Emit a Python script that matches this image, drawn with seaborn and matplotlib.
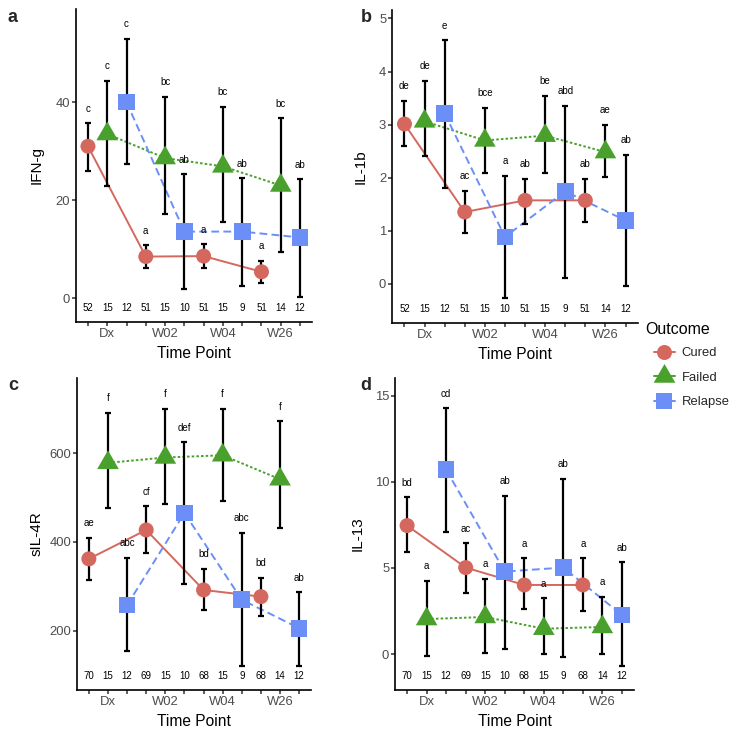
import matplotlib
matplotlib.use("Agg")
import matplotlib.pyplot as plt
import seaborn as sns
import pandas as pd
from matplotlib.path import Path
from matplotlib.lines import Line2D

# ---------------- data ----------------
timepoints = ["Dx", "W02", "W04", "W26"]
outcomes = ["Cured", "Failed", "Relapse"]
colors = {"Cured": "#D4685F", "Failed": "#4AA02C", "Relapse": "#6C8EF7"}

# order within each list: Dx(Cured, Failed, Relapse), W02(...), W04(...), W26(...)
ifng_mean = [31.0, 33.5, 40.0, 8.5, 28.6, 13.6, 8.6, 26.9, 13.6, 5.4, 23.0, 12.4]
ifng_low = [26.0, 23.0, 27.3, 6.1, 17.1, 1.9, 6.1, 15.6, 2.5, 3.2, 9.5, 0.3]
ifng_high = [35.7, 44.4, 52.9, 10.8, 41.1, 25.3, 11.0, 39.0, 24.5, 7.6, 36.7, 24.3]
ifng_letters = ["c", "c", "c", "a", "bc", "ab", "a", "bc", "ab", "a", "bc", "ab"]
ifng_n = [52, 15, 12, 51, 15, 10, 51, 15, 9, 51, 14, 12]

il1b_mean = [3.01, 3.06, 3.21, 1.35, 2.70, 0.88, 1.57, 2.79, 1.74, 1.57, 2.48, 1.19]
il1b_low = [2.60, 2.40, 1.81, 0.96, 2.08, -0.27, 1.13, 2.09, 0.10, 1.16, 2.01, -0.04]
il1b_high = [3.45, 3.82, 4.59, 1.75, 3.32, 2.03, 1.98, 3.54, 3.35, 1.98, 3.00, 2.43]
il1b_letters = ["de", "de", "e", "ac", "bce", "a", "ab", "be", "abd", "ab", "ae", "ab"]
il1b_n = [52, 15, 12, 51, 15, 10, 51, 15, 9, 51, 14, 12]

sil4r_mean = [362, 578, 258, 427, 590, 465, 292, 595, 270, 277, 541, 206]
sil4r_low = [315, 476, 155, 375, 485, 306, 246, 493, 121, 234, 431, 121]
sil4r_high = [409, 690, 364, 480, 700, 624, 340, 700, 420, 319, 671, 287]
sil4r_letters = ["ae", "f", "abc", "cf", "f", "def", "bd", "f", "abc", "bd", "f", "ab"]
sil4r_n = [70, 15, 12, 69, 15, 10, 68, 15, 9, 68, 14, 12]

il13_mean = [7.46, 2.03, 10.70, 5.02, 2.15, 4.79, 4.01, 1.47, 5.02, 4.01, 1.57, 2.27]
il13_low = [5.91, -0.12, 7.07, 3.57, 0.04, 0.27, 2.62, 0.0, -0.16, 2.52, 0.0, -0.70]
il13_high = [9.09, 4.26, 14.28, 6.43, 4.36, 9.19, 5.56, 3.24, 10.17, 5.56, 3.33, 5.33]
il13_letters = ["bd", "a", "cd", "ac", "a", "ab", "a", "a", "ab", "a", "a", "ab"]
il13_n = [70, 15, 12, 69, 15, 10, 68, 15, 9, 68, 14, 12]

# ---------------- style ----------------
sns.set_theme(style="ticks")
plt.rcParams["font.family"] = ["Liberation Sans", "DejaVu Sans"]

W, H = 733, 729
fig = plt.figure(figsize=(W / 100, H / 100), dpi=100)

tri = Path([(0, 1), (-0.866, -0.5), (0.866, -0.5), (0, 1)],
           [Path.MOVETO, Path.LINETO, Path.LINETO, Path.CLOSEPOLY])
markers = {"Cured": "o", "Failed": tri, "Relapse": "s"}
msize = {"Cured": 10.8, "Failed": 18.0, "Relapse": 12.0}
dashes = {"Cured": "", "Failed": (1.3, 1.1), "Relapse": (4, 2.2)}


def make_df(mean, low, high):
    rows = []
    for ti, tp in enumerate(timepoints):
        for oi, oc in enumerate(outcomes):
            k = ti * 3 + oi
            rows.append(dict(pos=k + 1, Time=tp, Outcome=oc,
                             mean=mean[k], low=low[k], high=high[k]))
    return pd.DataFrame(rows)


def px_axes(L, R, T, B):
    return fig.add_axes([L / W, 1 - B / H, (R - L) / W, (B - T) / H])


def panel(box, mean, low, high, letters, ns, ylim, yticks, ylabel, ylab_x, tag, tag_x):
    L, R, T, B = box
    ax = px_axes(L, R, T, B)
    df = make_df(mean, low, high)
    sns.lineplot(data=df, x="pos", y="mean", hue="Outcome", style="Outcome",
                 palette=colors, dashes=dashes, markers=False, linewidth=1.4,
                 legend=False, sort=True, estimator=None, ax=ax, zorder=1.5)
    ax.errorbar(df["pos"], df["mean"],
                yerr=[df["mean"] - df["low"], df["high"] - df["mean"]],
                fmt="none", ecolor="black", elinewidth=1.6, capsize=2.2,
                capthick=1.6, zorder=2.5)
    sns.scatterplot(data=df, x="pos", y="mean", hue="Outcome", style="Outcome",
                    size="Outcome", palette=colors, markers=markers,
                    sizes={k: v ** 2 for k, v in msize.items()},
                    linewidth=0, alpha=1, legend=False, ax=ax, zorder=3)
    for x, hi, lab in zip(df["pos"], df["high"], letters):
        ax.annotate(lab, (x, hi), xytext=(0, 10.5), textcoords="offset points",
                    ha="center", va="center", fontsize=7, color="black")
    tr = ax.get_xaxis_transform()
    for x, n in zip(df["pos"], ns):
        ax.text(x, 0.044, str(n), transform=tr, ha="center", va="center",
                fontsize=7, color="black")
    ax.set_xlim(0.38, 12.62)
    ax.set_ylim(*ylim)
    ax.set_xticks(list(df["pos"]))
    ax.set_xticklabels([tp if oc == "Failed" else "" for tp, oc in zip(df["Time"], df["Outcome"])])
    ax.set_yticks(yticks)
    ax.set_yticklabels([str(t) for t in yticks])
    sns.despine(ax=ax)
    for s in ["left", "bottom"]:
        ax.spines[s].set_linewidth(1.2)
        ax.spines[s].set_color("black")
    ax.tick_params(axis="both", length=3, width=1.1, color="#333333",
                   labelcolor="#4D4D4D", labelsize=9.4, pad=1.2)
    ax.set_xlabel("Time Point", fontsize=11.2, color="black")
    ax.xaxis.set_label_coords(0.5, -(346 - 322) / (B - T))
    ax.xaxis.label.set_va("top")
    ax.set_ylabel("")
    fig.text(ylab_x / W, 1 - ((T + B) / 2) / H, ylabel, rotation=90,
             ha="center", va="center", fontsize=11, color="black")
    fig.text(tag_x / W, 1 - (T + 8) / H, tag,
             fontsize=13, fontweight="bold", ha="center", va="center")
    return ax


panel((76, 312, 9, 322), ifng_mean, ifng_low, ifng_high, ifng_letters, ifng_n,
      (-4.84, 59.0), [0, 20, 40], "IFN-g", 37, "a", 13)
panel((392, 638, 10, 323), il1b_mean, il1b_low, il1b_high, il1b_letters, il1b_n,
      (-0.743, 5.16), [0, 1, 2, 3, 4, 5], "IL-1b", 361, "b", 366)
panel((77, 311, 378, 690), sil4r_mean, sil4r_low, sil4r_high, sil4r_letters, sil4r_n,
      (67, 768.8), [200, 400, 600], "sIL-4R", 37, "c", 13)
panel((395, 634, 378, 690), il13_mean, il13_low, il13_high, il13_letters, il13_n,
      (-2.09, 16.03), [0, 5, 10, 15], "IL-13", 358, "d", 366)

# legend
fig.text(645 / W, 1 - 329 / H, "Outcome", ha="left", va="center",
         fontsize=11.5, color="black")
handles = [Line2D([], [], color=colors[o], marker=markers[o], markersize=msize[o],
                  markeredgewidth=0, linestyle="-", linewidth=1.4) for o in outcomes]
leg = fig.legend(handles, outcomes, loc="upper left",
                 bbox_to_anchor=(654 / W, 1 - 347 / H), frameon=False,
                 fontsize=9.4, handlelength=1.6, handletextpad=0.5,
                 labelspacing=0.95, borderpad=0, borderaxespad=0)

fig.savefig("out.png", dpi=100)
